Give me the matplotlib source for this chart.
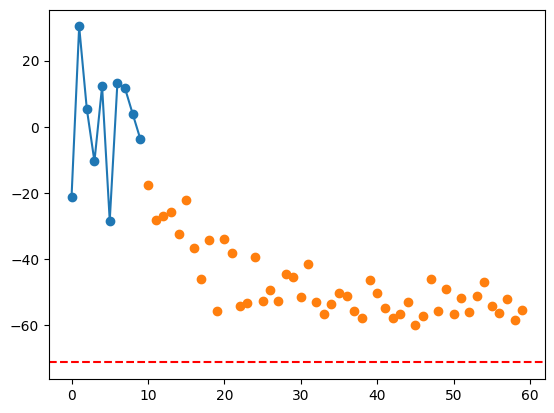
import numpy as np
import matplotlib
matplotlib.use("Agg")
import matplotlib.pyplot as plt

# first part: observed series (line + markers)
x_obs = np.arange(0, 10)
y_obs = [-21.4, 30.3, 5.4, -10.5, 12.2, -28.4, 13.1, 11.6, 3.9, -3.7]

# second part: scattered points
x_pts = np.arange(10, 60)
y_pts = [
    -17.5, -28.1, -26.9, -25.7, -32.6, -22.1, -36.6, -46.1, -34.4, -55.6,
    -34.1, -38.1, -54.3, -53.4, -39.5, -52.6, -49.5, -52.6, -44.6, -45.6,
    -51.4, -41.4, -52.9, -56.7, -53.7, -50.2, -51.1, -55.6, -57.7, -46.5,
    -50.2, -54.7, -58.0, -56.5, -52.9, -60.1, -57.1, -46.2, -55.6, -49.2,
    -56.5, -51.7, -55.9, -51.1, -47.1, -54.1, -56.2, -52.0, -58.6, -55.3,
]

# horizontal reference level
level = -71.3

fig, ax = plt.subplots(figsize=(6.4, 4.8), dpi=100)
ax.plot(x_obs, y_obs, "o-")
ax.scatter(x_pts, y_pts, color="C1")
ax.axhline(level, color="r", linestyle="--")

fig.savefig("out.png", bbox_inches="tight")
